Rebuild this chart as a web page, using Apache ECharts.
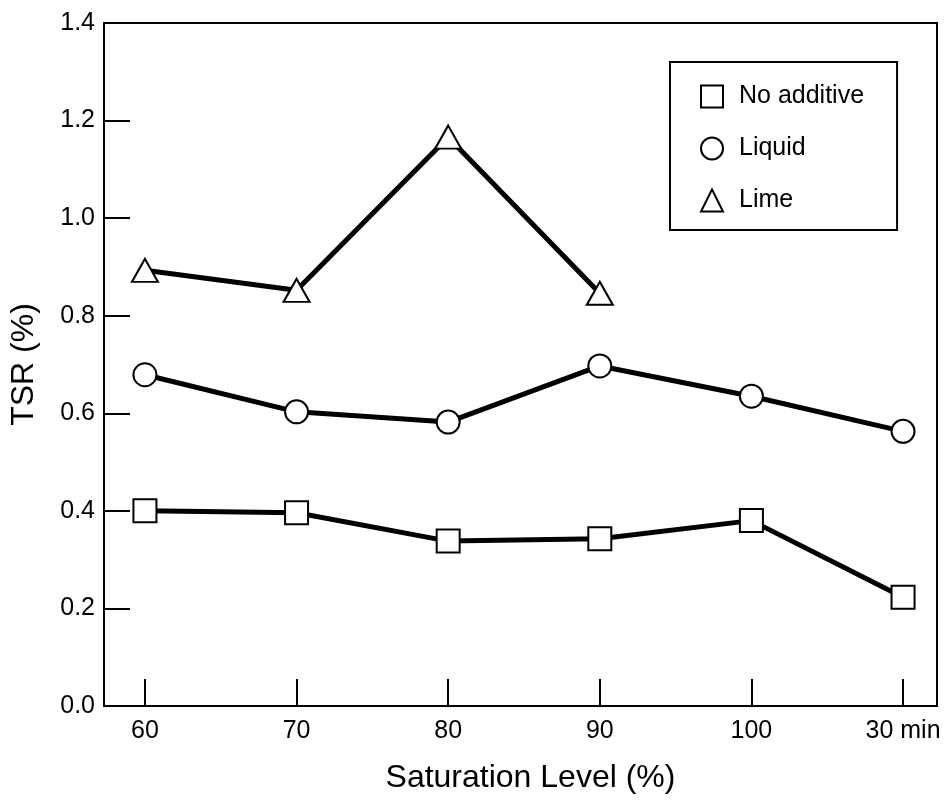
<!DOCTYPE html>
<html>
<head>
<meta charset="utf-8">
<script src="https://cdn.jsdelivr.net/npm/echarts@6/dist/echarts.min.js"></script>
<style>
html,body{margin:0;padding:0;background:#fff;}
#chart{width:944px;height:804px;}
</style>
</head>
<body>
<div id="chart"></div>
<script>
const categories = ['60', '70', '80', '90', '100', '30 min'];
const yTicks = [0, 0.2, 0.4, 0.6, 0.8, 1.0, 1.2, 1.4];
const noAdditive = [0.40, 0.396, 0.338, 0.343, 0.38, 0.223];
const liquid = [0.679, 0.603, 0.582, 0.697, 0.635, 0.563];
const lime = [0.893, 0.852, 1.166, 0.846];

const FONT = 'Liberation Sans, Arial, Helvetica, sans-serif';
const xIdx = categories.map((c, i) => i);
function toPairs(arr) { return arr.map((v, i) => [i, v]); }

const chart = echarts.init(document.getElementById('chart'), null, {renderer: 'canvas'});
const symStyle = {color: '#fff', borderColor: '#000', borderWidth: 2};
const lineStyle = {color: '#000', width: 5};

chart.setOption({
  backgroundColor: '#fff',
  animation: false,
  grid: {
    left: 104, right: 7, top: 23, bottom: 98,
    show: true, borderColor: '#000', borderWidth: 2, backgroundColor: 'transparent'
  },
  legend: {
    left: 670, top: 62,
    orient: 'vertical',
    padding: [22, 33, 17, 30],
    borderColor: '#000', borderWidth: 2,
    itemWidth: 22, itemHeight: 22, itemGap: 27,
    itemStyle: {color: '#fff', borderColor: '#000', borderWidth: 2},
    textStyle: {fontFamily: FONT, fontSize: 25, color: '#000', padding: [0, 0, 0, 11]},
    data: [
      {name: 'No additive', icon: 'rect'},
      {name: 'Liquid', icon: 'circle'},
      {name: 'Lime', icon: 'triangle'}
    ]
  },
  xAxis: {
    type: 'value',
    min: -0.27, max: 5.224,
    name: 'Saturation Level (%)',
    nameLocation: 'middle',
    nameGap: 56,
    nameTextStyle: {fontFamily: FONT, fontSize: 32, color: '#000', padding: [0, 0, 0, 20]},
    axisLine: {onZero: false, lineStyle: {color: '#000', width: 2}},
    splitLine: {show: false},
    axisTick: {inside: true, length: 27, lineStyle: {color: '#000', width: 2}, customValues: xIdx},
    axisLabel: {
      customValues: xIdx,
      fontFamily: FONT, fontSize: 25, color: '#000', margin: 13,
      formatter: v => categories[Math.round(v)]
    }
  },
  yAxis: {
    type: 'value',
    min: 0, max: 1.4, interval: 0.2,
    name: 'TSR (%)',
    nameLocation: 'middle',
    nameGap: 64,
    nameTextStyle: {fontFamily: FONT, fontSize: 32, color: '#000'},
    axisLine: {show: true, onZero: false, lineStyle: {color: '#000', width: 2}},
    splitLine: {show: false},
    axisTick: {inside: true, length: 26, lineStyle: {color: '#000', width: 2}},
    axisLabel: {
      fontFamily: FONT, fontSize: 25, color: '#000', margin: 9,
      formatter: v => yTicks.includes(Math.round(v * 10) / 10) ? v.toFixed(1) : ''
    }
  },
  series: [
    {
      name: 'No additive', type: 'line', data: toPairs(noAdditive),
      symbol: 'rect', symbolSize: 23, showAllSymbol: true,
      lineStyle: lineStyle, itemStyle: symStyle, z: 3
    },
    {
      name: 'Liquid', type: 'line', data: toPairs(liquid),
      symbol: 'circle', symbolSize: 23, showAllSymbol: true,
      lineStyle: lineStyle, itemStyle: symStyle, z: 3
    },
    {
      name: 'Lime', type: 'line', data: toPairs(lime),
      symbol: 'triangle', symbolSize: [26, 23], showAllSymbol: true,
      lineStyle: lineStyle, itemStyle: symStyle, z: 3
    }
  ]
});
</script>
</body>
</html>
